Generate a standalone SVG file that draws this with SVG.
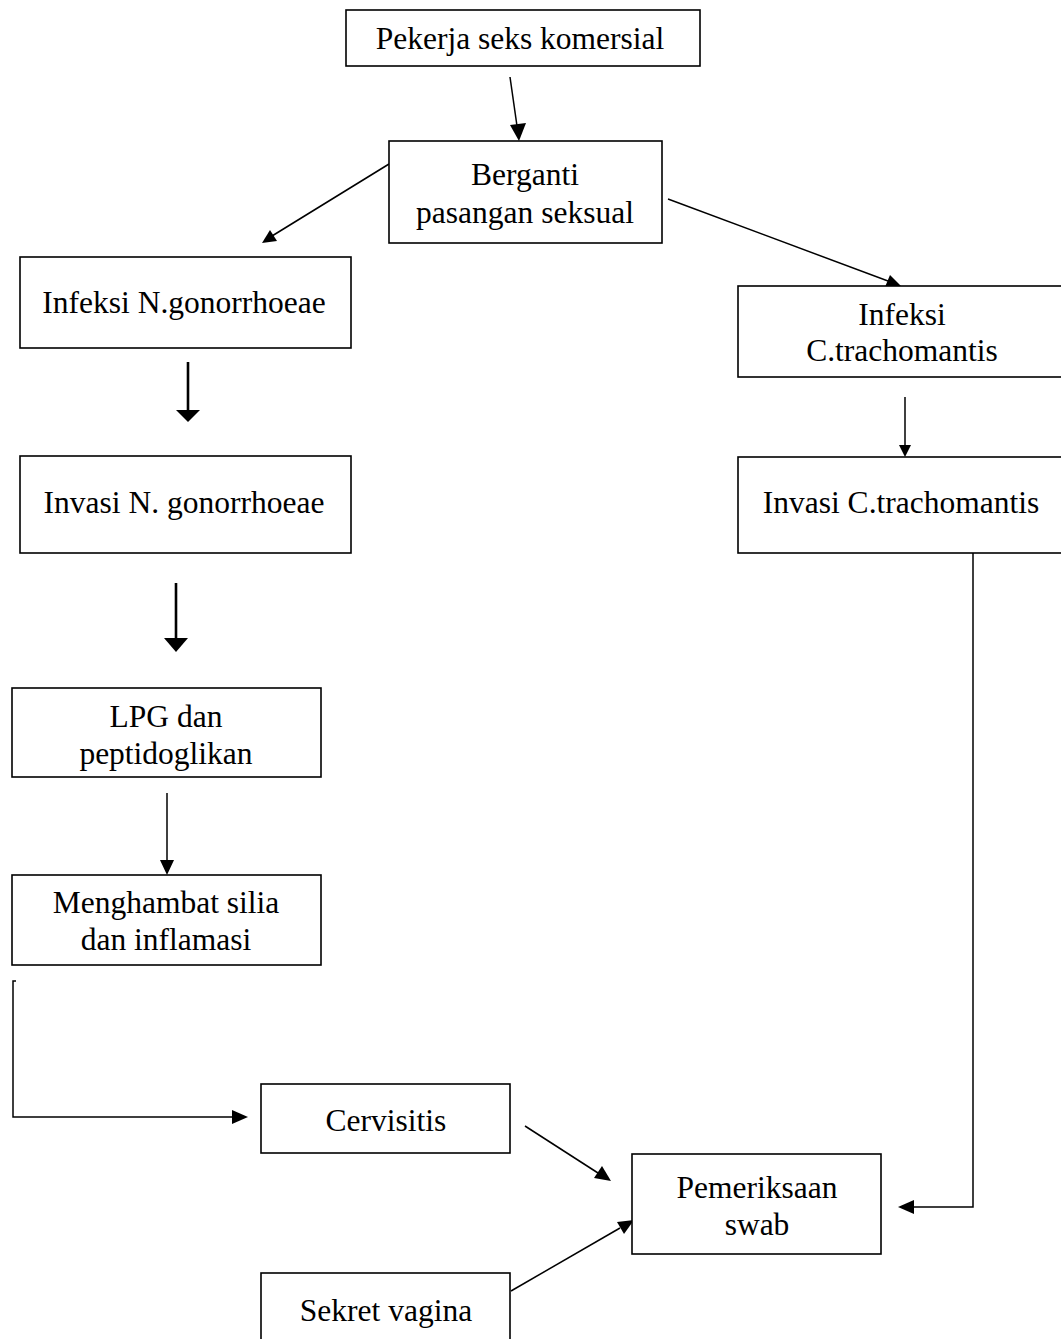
<svg xmlns="http://www.w3.org/2000/svg" width="1061" height="1339" viewBox="0 0 1061 1339">
<style>
.box{fill:#fff;stroke:#000;stroke-width:1.6}
.t{font-family:"Liberation Serif","Times New Roman",serif;font-size:31.5px;fill:#000;text-anchor:middle}
.c{fill:none;stroke:#000;stroke-width:1.5}
.ct{fill:none;stroke:#000;stroke-width:2.6}
.h{fill:#000;stroke:none}
</style>
<rect width="1061" height="1339" fill="#fff"/>
<g id="connectors">
<line class="c" x1="510" y1="77" x2="517" y2="126"/>
<polygon class="h" points="519,141 510,125 526,123"/>
<line class="c" x1="389" y1="164" x2="272" y2="236"/>
<polygon class="h" points="262,243 270,230 277,241"/>
<line class="c" x1="668" y1="199" x2="888" y2="281"/>
<polygon class="h" points="901,286 885,287 890,275"/>
<line class="ct" x1="188" y1="362" x2="188" y2="411"/>
<polygon class="h" points="176,410 200,410 188,422"/>
<line class="ct" x1="176" y1="583" x2="176" y2="639"/>
<polygon class="h" points="164,638 188,638 176,652"/>
<line class="c" x1="167" y1="793" x2="167" y2="861"/>
<polygon class="h" points="160,860 174,860 167,875"/>
<line class="c" x1="905" y1="397" x2="905" y2="446"/>
<polygon class="h" points="899,445 911,445 905,457"/>
<polyline class="c" points="16,981 13,981 13,1117 233,1117"/>
<polygon class="h" points="232,1110 232,1124 248,1117"/>
<line class="c" x1="525" y1="1126" x2="598" y2="1173"/>
<polygon class="h" points="611,1181 594,1178 602,1166"/>
<line class="c" x1="511" y1="1291" x2="620" y2="1228"/>
<polygon class="h" points="634,1220 624,1234 617,1222"/>
<polyline class="c" points="973,553 973,1207 913,1207"/>
<polygon class="h" points="898,1207 914,1200 914,1214"/>
</g>
<g id="n1"><rect class="box" x="346" y="10" width="354" height="56"/><text class="t" x="520" y="49">Pekerja seks komersial</text></g>
<g id="n2"><rect class="box" x="389" y="141" width="273" height="102"/><text class="t" x="525" y="185">Berganti</text><text class="t" x="525" y="223">pasangan seksual</text></g>
<g id="n3"><rect class="box" x="20" y="257" width="331" height="91"/><text class="t" x="184" y="313">Infeksi N.gonorrhoeae</text></g>
<g id="n4"><rect class="box" x="738" y="286" width="325" height="91"/><text class="t" x="902" y="325">Infeksi</text><text class="t" x="902" y="361">C.trachomantis</text></g>
<g id="n5"><rect class="box" x="20" y="456" width="331" height="97"/><text class="t" x="184" y="513">Invasi N. gonorrhoeae</text></g>
<g id="n6"><rect class="box" x="738" y="457" width="325" height="96"/><text class="t" x="901" y="513">Invasi C.trachomantis</text></g>
<g id="n7"><rect class="box" x="12" y="688" width="309" height="89"/><text class="t" x="166" y="727">LPG dan</text><text class="t" x="166" y="764">peptidoglikan</text></g>
<g id="n8"><rect class="box" x="12" y="875" width="309" height="90"/><text class="t" x="166" y="913">Menghambat silia</text><text class="t" x="166" y="950">dan inflamasi</text></g>
<g id="n9"><rect class="box" x="261" y="1084" width="249" height="69"/><text class="t" x="386" y="1131">Cervisitis</text></g>
<g id="n10"><rect class="box" x="632" y="1154" width="249" height="100"/><text class="t" x="757" y="1198">Pemeriksaan</text><text class="t" x="757" y="1235">swab</text></g>
<g id="n11"><rect class="box" x="261" y="1273" width="249" height="80"/><text class="t" x="386" y="1321">Sekret vagina</text></g>
</svg>
